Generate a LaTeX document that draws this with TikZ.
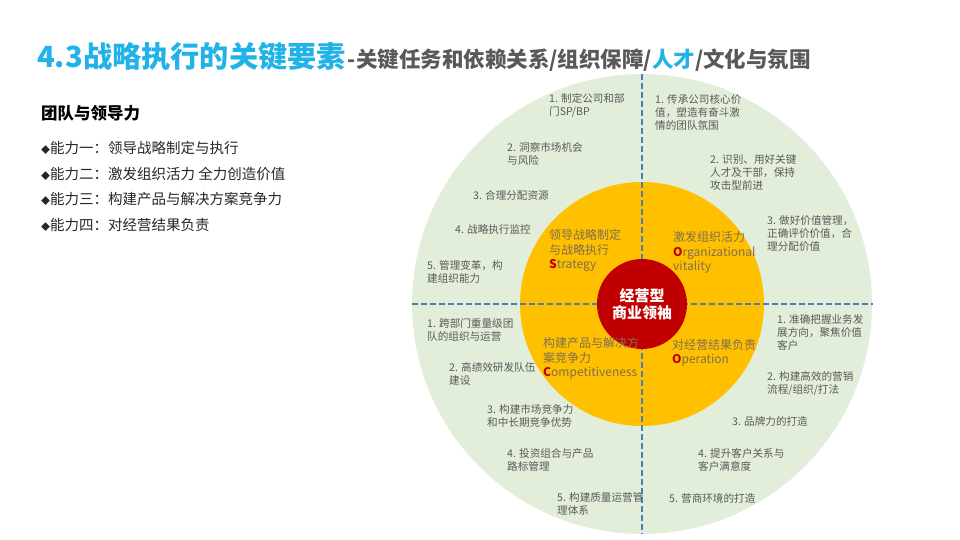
\documentclass[tikz,border=0pt]{standalone}
\usepackage{fontspec}
\setmainfont{Noto Sans CJK SC}
\definecolor{titlecyan}{HTML}{21B2E8}
\definecolor{subgray}{HTML}{595959}
\definecolor{txtgray}{HTML}{595959}
\definecolor{ygray}{HTML}{7F6F4F}
\definecolor{outergreen}{HTML}{E2EEDA}
\definecolor{ringyellow}{HTML}{FFC000}
\definecolor{corered}{HTML}{C00000}
\definecolor{dashblue}{HTML}{4A7EBB}
\definecolor{itemblack}{HTML}{262626}
\newcommand{\redL}[1]{\textcolor{corered}{\bfseries #1}}
\begin{document}
\begin{tikzpicture}[x=1pt,y=-1pt,
  smalltext/.style={font=\fontsize{10.6}{13}\selectfont, text=txtgray, align=left, anchor=west, inner sep=0pt},
  ytext/.style={font=\fontsize{12}{14.5}\selectfont, text=ygray, align=left, anchor=west, inner sep=0pt},
  itemtext/.style={font=\fontsize{14.5}{16}\selectfont, text=itemblack, anchor=west, inner sep=0pt},
  divider/.style={draw=dashblue, line width=1.6pt, dash pattern=on 6pt off 3pt}]
\useasboundingbox (0,0) rectangle (960,540);
% title
\node[anchor=west, inner sep=0pt] (title) at (37,57)
  {{\fontsize{29.2}{29}\selectfont\bfseries\color{titlecyan}4.3战略执行的关键要素}\hspace{2pt}{\fontsize{21.5}{22}\selectfont\bfseries\color{subgray}-关键任务和依赖关系/组织保障/\textcolor{titlecyan}{人才}/文化与氛围}};
% left block
\node[anchor=west, inner sep=0pt, font=\fontsize{16.5}{18}\selectfont\bfseries, text=black] (lhead) at (41,113) {团队与领导力};
\node[itemtext] (i1) at (41,148) {{\fontsize{9}{9}\selectfont ◆}能力一：领导战略制定与执行};
\node[itemtext] (i2) at (41,174) {{\fontsize{9}{9}\selectfont ◆}能力二：激发组织活力 全力创造价值};
\node[itemtext] (i3) at (41,199) {{\fontsize{9}{9}\selectfont ◆}能力三：构建产品与解决方案竞争力};
\node[itemtext] (i4) at (41,225) {{\fontsize{9}{9}\selectfont ◆}能力四：对经营结果负责};
% circles
\coordinate (c) at (642,304);
\fill[outergreen] (c) circle (230);
\fill[ringyellow] (c) circle (122);
\coordinate (vt) at (642,74);
\coordinate (vb) at (642,534);
\coordinate (hl) at (412,304);
\coordinate (hr) at (873,304);
\draw[divider] (vt) -- (vb);
\draw[divider] (hl) -- (hr);
\fill[corered] (c) circle (45);
\node[font=\fontsize{15}{17}\selectfont\bfseries, text=white, align=center, inner sep=0pt] (core) at (c) {经营型\\商业领袖};
% yellow ring texts
\node[ytext] (ys) at (549,250.5) {领导战略制定\\与战略执行\\\redL{S}trategy};
\node[ytext] (yo) at (673,252.5) {激发组织活力\\\redL{O}rganizational\\vitality};
\node[ytext] (yc) at (543,358.5) {构建产品与解决方\\案竞争力\\\redL{C}ompetitiveness};
\node[ytext] (yp) at (672,353) {对经营结果负责\\\redL{O}peration};
% top-left quadrant
\node[smalltext] (tl1) at (549,105.5) {1. 制定公司和部\\门SP/BP};
\node[smalltext] (tl2) at (507,153.5) {2. 洞察市场机会\\与风险};
\node[smalltext] (tl3) at (473,195) {3. 合理分配资源};
\node[smalltext] (tl4) at (455,229) {4. 战略执行监控};
\node[smalltext] (tl5) at (427,271.5) {5. 管理变革，构\\建组织能力};
% top-right quadrant
\node[smalltext] (tr1) at (655,112) {1. 传承公司核心价\\值，塑造有奋斗激\\情的团队氛围};
\node[smalltext] (tr2) at (710,172) {2. 识别、用好关键\\人才及干部，保持\\攻击型前进};
\node[smalltext] (tr3) at (767,233) {3. 做好价值管理，\\正确评价价值，合\\理分配价值};
% bottom-left quadrant
\node[smalltext] (bl1) at (427,329.5) {1. 跨部门重量级团\\队的组织与运营};
\node[smalltext] (bl2) at (449,373.5) {2. 高绩效研发队伍\\建设};
\node[smalltext] (bl3) at (487,416) {3. 构建市场竞争力\\和中长期竞争优势};
\node[smalltext] (bl4) at (507,459.5) {4. 投资组合与产品\\路标管理};
\node[smalltext] (bl5) at (557,503.5) {5. 构建质量运营管\\理体系};
% bottom-right quadrant
\node[smalltext] (br1) at (777,332) {1. 准确把握业务发\\展方向，聚焦价值\\客户};
\node[smalltext] (br2) at (767,383.5) {2. 构建高效的营销\\流程/组织/打法};
\node[smalltext] (br3) at (732,421) {3. 品牌力的打造};
\node[smalltext] (br4) at (698,459.5) {4. 提升客户关系与\\客户满意度};
\node[smalltext] (br5) at (669,498) {5. 营商环境的打造};
\end{tikzpicture}
\end{document}
